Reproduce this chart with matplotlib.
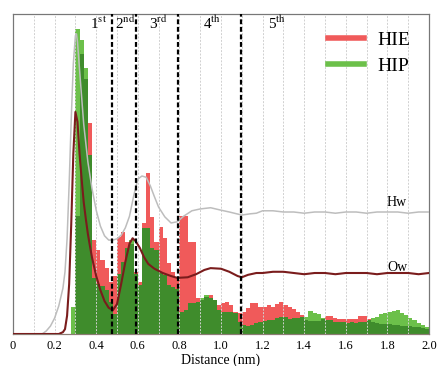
import numpy as np
import matplotlib
matplotlib.use("Agg")
import matplotlib.pyplot as plt
from matplotlib.lines import Line2D

plt.rcParams["font.family"] = "Liberation Serif"
plt.rcParams["mathtext.fontset"] = "stix"

# histogram of ion-water distances, bins of 0.02 nm starting at 0.28 nm
bin_left = np.linspace(0.28, 1.98, 86)
hie_counts = [0, 118, 280, 255, 211, 94, 84, 74, 66, 52,
              58, 97, 102, 92, 90, 62, 52, 111, 161, 117,
              92, 107, 96, 71, 62, 57, 118, 118, 92, 92,
              36, 34, 37, 39, 34, 29, 31, 32, 29, 22,
              21, 22, 26, 31, 31, 27, 27, 29, 27, 30,
              32, 29, 27, 25, 22, 19, 14, 13, 13, 13,
              15, 18, 18, 16, 15, 15, 15, 15, 15, 18,
              18, 15, 12, 11, 10, 10, 10, 9, 9, 8,
              8, 8, 7, 7, 6, 5]
hip_counts = [27, 305, 294, 266, 179, 56, 50, 48, 44, 32,
              20, 60, 72, 86, 94, 60, 49, 106, 106, 86,
              84, 61, 59, 49, 47, 45, 22, 24, 31, 31,
              32, 36, 39, 36, 34, 24, 22, 22, 22, 21,
              12, 9, 8, 9, 11, 12, 13, 14, 14, 16,
              17, 17, 15, 16, 16, 17, 17, 23, 21, 20,
              16, 14, 14, 12, 12, 12, 11, 12, 11, 12,
              12, 14, 16, 17, 20, 21, 22, 23, 24, 21,
              19, 16, 14, 11, 9, 7]

# radial distribution functions of water oxygen and hydrogen
r_ow = [0.0, 0.22, 0.24, 0.25, 0.26, 0.27, 0.28, 0.29, 0.30, 0.31,
        0.32, 0.33, 0.34, 0.35, 0.36, 0.37, 0.38, 0.40, 0.42, 0.44,
        0.46, 0.48, 0.50, 0.52, 0.54, 0.56, 0.575, 0.59, 0.61, 0.63,
        0.65, 0.68, 0.72, 0.76, 0.79, 0.84, 0.88, 0.92, 0.95, 1.00,
        1.04, 1.08, 1.10, 1.13, 1.17, 1.20, 1.25, 1.30, 1.35, 1.40,
        1.45, 1.50, 1.55, 1.60, 1.65, 1.70, 1.75, 1.80, 1.85, 1.90,
        1.95, 2.00]
g_ow = [0, 0, 0.03, 0.08, 0.30, 0.82, 1.80, 2.95, 3.64, 3.48,
        2.95, 2.54, 2.16, 1.89, 1.64, 1.44, 1.25, 0.95, 0.72, 0.54,
        0.43, 0.39, 0.49, 0.82, 1.18, 1.48, 1.57, 1.52, 1.41, 1.26,
        1.15, 1.07, 1.00, 0.95, 0.92, 0.93, 0.98, 1.05, 1.08, 1.07,
        1.02, 0.95, 0.93, 0.97, 1.00, 1.00, 1.02, 1.02, 1.00, 0.98,
        1.00, 1.00, 0.98, 1.00, 1.00, 1.00, 0.98, 1.00, 1.00, 1.00,
        0.98, 1.00]
r_hw = [0.0, 0.14, 0.16, 0.18, 0.20, 0.22, 0.24, 0.25, 0.26, 0.27,
        0.28, 0.29, 0.30, 0.305, 0.31, 0.32, 0.34, 0.36, 0.38, 0.40,
        0.42, 0.44, 0.46, 0.48, 0.50, 0.52, 0.54, 0.56, 0.58, 0.60,
        0.62, 0.64, 0.66, 0.68, 0.70, 0.73, 0.76, 0.79, 0.82, 0.86,
        0.90, 0.95, 1.00, 1.04, 1.10, 1.14, 1.17, 1.20, 1.25, 1.30,
        1.35, 1.40, 1.45, 1.50, 1.55, 1.60, 1.65, 1.70, 1.75, 1.80,
        1.85, 1.90, 1.95, 2.00]
g_hw = [0, 0, 0.05, 0.13, 0.26, 0.46, 0.75, 1.02, 1.56, 2.46,
        3.52, 4.43, 4.89, 4.92, 4.79, 4.33, 3.44, 2.82, 2.38, 2.03,
        1.77, 1.61, 1.54, 1.54, 1.56, 1.62, 1.74, 1.93, 2.26, 2.54,
        2.59, 2.57, 2.43, 2.25, 2.08, 1.92, 1.82, 1.84, 1.93, 2.02,
        2.05, 2.07, 2.03, 2.00, 1.95, 1.97, 1.98, 2.02, 2.02, 2.00,
        2.00, 1.98, 2.00, 2.00, 1.98, 2.00, 2.00, 1.98, 2.00, 2.00,
        2.00, 1.98, 2.00, 2.00]

shell_bounds = [0.477, 0.592, 0.793, 1.097]
shell_names = ["1", "2", "3", "4", "5"]
shell_sup = ["st", "nd", "rd", "th", "th"]
shell_x = [0.41, 0.538, 0.70, 0.957, 1.267]

RED = "#f05a5a"
GREEN = "#6cc04a"
DARK = "#3f8c2c"

fig = plt.figure(figsize=(4.38, 3.66), dpi=100)
ax = fig.add_axes([13 / 438, 1 - 334 / 366, 416 / 438, 320 / 366])
axh = ax.twinx()
ax.set_zorder(axh.get_zorder() + 1)
ax.patch.set_visible(False)

# overlapping histograms: the common part drawn in a darker green
hie = np.array(hie_counts)
hip = np.array(hip_counts)
axh.bar(bin_left, hie, width=0.02, align="edge", color=RED, lw=0)
axh.bar(bin_left, hip, width=0.02, align="edge", color=GREEN, lw=0)
axh.bar(bin_left, np.minimum(hie, hip), width=0.02, align="edge", color=DARK, lw=0)
axh.set_ylim(0, 320)
axh.set_yticks([])

ax.plot(r_hw, g_hw, color="#bdbdbd", lw=1.1, zorder=3)
ax.plot(r_ow, g_ow, color="#7a1c1c", lw=1.5, zorder=3)

for xb in shell_bounds:
    ax.axvline(xb, color="black", ls=(0, (2.2, 1.2)), lw=1.6, zorder=4)

for xs, n, s in zip(shell_x, shell_names, shell_sup):
    ax.text(xs, 5.0, n + r"$^{\mathrm{" + s + "}}$", fontsize=11,
            ha="center", va="baseline", zorder=5)

ax.text(1.846, 2.15, "Hw", fontsize=10, ha="center", va="center")
ax.text(1.846, 1.09, "Ow", fontsize=10, ha="center", va="center")

ax.set_xlim(0, 2.0)
ax.set_ylim(0, 320 / 61)
ax.set_yticks([])
ax.set_xticks(np.arange(0, 2.01, 0.2))
ax.set_xticklabels(["0", "0.2", "0.4", "0.6", "0.8", "1.0",
                    "1.2", "1.4", "1.6", "1.8", "2.0"])
ax.set_xticks(np.arange(0.1, 2.0, 0.2), minor=True)
ax.tick_params(axis="x", which="both", length=0, labelsize=9, pad=4)
ax.set_axisbelow(True)
ax.grid(True, axis="x", which="both", color="#d0d0d0", ls=(0, (2, 1.5)), lw=0.7)
ax.set_xlabel("Distance (nm)", fontsize=10, labelpad=1.5)

for side in ["top", "right", "left"]:
    ax.spines[side].set_color("#777777")
    axh.spines[side].set_color("#777777")
ax.spines["bottom"].set_color("#8b7b73")
axh.spines["bottom"].set_color("#8b7b73")

handles = [Line2D([], [], color=RED, lw=4), Line2D([], [], color=GREEN, lw=4)]
ax.legend(handles, ["HIE", "HIP"], loc="upper right", frameon=False,
          fontsize=14, handlelength=1.85, handletextpad=0.7, labelspacing=0.42,
          borderpad=0, borderaxespad=0, bbox_to_anchor=(0.955, 0.946))

fig.savefig("out.png", dpi=100)
